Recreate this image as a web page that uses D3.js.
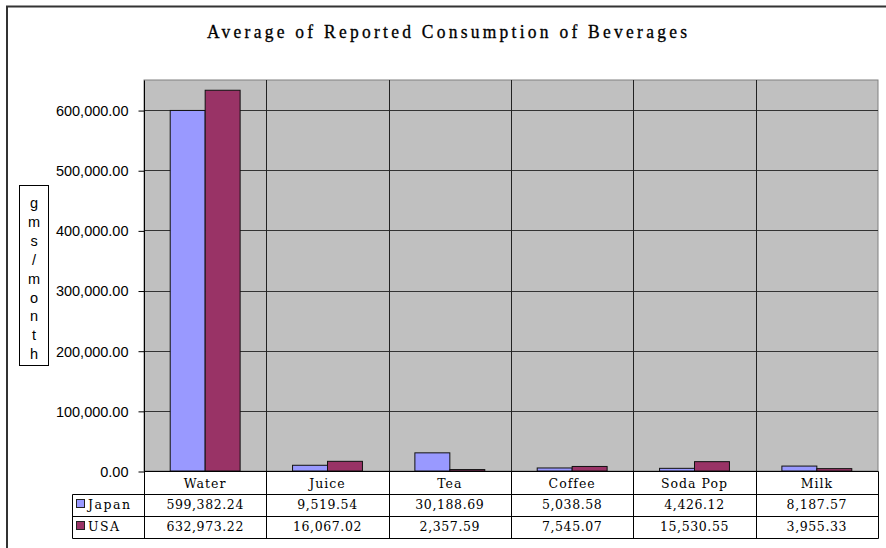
<!DOCTYPE html>
<html>
<head>
<meta charset="utf-8">
<script src="https://cdn.jsdelivr.net/npm/d3@7"></script>
<style>
  html, body { margin: 0; padding: 0; background: #fff; }
  svg { display: block; }
</style>
</head>
<body>
<svg id="chart" width="886" height="548"></svg>
<script>
// Beverage consumption (gms / month) by country
const categories = ["Water", "Juice", "Tea", "Coffee", "Soda Pop", "Milk"];
const seriesNames = ["Japan", "USA"];
const japanValues = [599382.24, 9519.54, 30188.69, 5038.58, 4426.12, 8187.57];
const usaValues = [632973.22, 16067.02, 2357.59, 7545.07, 15530.55, 3955.33];
const yTicks = [0, 100000, 200000, 300000, 400000, 500000, 600000];
const yTitleLetters = ["g", "m", "s", "/", "m", "o", "n", "t", "h"];
const titleText = "Average of Reported Consumption of Beverages";

const seriesValues = [japanValues, usaValues];
const seriesColors = ["#9999FF", "#993366"];

const svg = d3.select("#chart");

const plot = { left: 144, right: 878, top: 80, bottom: 471 };
const table = { left: 72, catRow: 494, row1: 516, row2: 538 };

// Outer chart frame (left and top edges visible)
svg.append("path")
  .attr("d", `M7,548 L7,6.5 L886,6.5`)
  .attr("fill", "none")
  .attr("stroke", "#333")
  .attr("stroke-width", 2);

// Title, drawn slightly condensed and tall
svg.append("text")
  .attr("transform", "translate(447,38) scale(1,1.12)")
  .attr("text-anchor", "middle")
  .attr("font-family", "'Liberation Serif', 'DejaVu Serif', serif")
  .attr("font-size", 17.5)
  .attr("textLength", 480)
  .attr("lengthAdjust", "spacing")
  .attr("stroke", "#000")
  .attr("stroke-width", 0.3)
  .attr("fill", "#000")
  .text(titleText);

// Scales
const x = d3.scaleBand()
  .domain(categories)
  .range([plot.left, plot.right])
  .paddingInner(0)
  .paddingOuter(0);

const bw = x.bandwidth();
const gap = bw * 0.75 / 3.5;
const xs = d3.scaleBand()
  .domain(seriesNames)
  .range([gap, bw - gap])
  .padding(0);

const y = d3.scaleLinear()
  .domain([0, 650000])
  .range([plot.bottom, plot.top]);

// Plot area background
svg.append("rect")
  .attr("x", plot.left)
  .attr("y", plot.top)
  .attr("width", plot.right - plot.left)
  .attr("height", plot.bottom - plot.top)
  .attr("fill", "#C0C0C0")
  .attr("stroke", "#808080")
  .attr("stroke-width", 1);

// Horizontal gridlines
svg.append("g")
  .selectAll("line")
  .data(yTicks.filter(d => d > 0))
  .join("line")
  .attr("x1", plot.left)
  .attr("x2", plot.right)
  .attr("y1", d => Math.round(y(d)) + 0.5)
  .attr("y2", d => Math.round(y(d)) + 0.5)
  .attr("stroke", "#333")
  .attr("stroke-width", 1);

// Vertical category dividers in the plot area
const dividers = categories.slice(1).map(c => x(c));
svg.append("g")
  .selectAll("line")
  .data(dividers)
  .join("line")
  .attr("x1", d => Math.round(d) + 0.5)
  .attr("x2", d => Math.round(d) + 0.5)
  .attr("y1", plot.top)
  .attr("y2", plot.bottom)
  .attr("stroke", "#222")
  .attr("stroke-width", 1);

// Bars
const barData = [];
categories.forEach((c, i) => {
  seriesNames.forEach((s, j) => {
    barData.push({ cat: c, series: s, value: seriesValues[j][i], color: seriesColors[j] });
  });
});

svg.append("g")
  .selectAll("rect")
  .data(barData)
  .join("rect")
  .attr("x", d => x(d.cat) + xs(d.series))
  .attr("y", d => y(d.value))
  .attr("width", xs.bandwidth())
  .attr("height", d => Math.max(0, y(0) - y(d.value)))
  .attr("fill", d => d.color)
  .attr("stroke", "#111")
  .attr("stroke-width", 1);

// Y axis
const yAxis = d3.axisLeft(y)
  .tickValues(yTicks)
  .tickSize(6)
  .tickPadding(10)
  .tickFormat(d3.format(",.2f"));

const yAxisG = svg.append("g")
  .attr("transform", `translate(${plot.left + 0.5},0.5)`)
  .call(yAxis);
yAxisG.select(".domain").attr("stroke", "#000").attr("d", `M0,${plot.top}V${table.row2}`);
yAxisG.selectAll(".tick line").attr("stroke", "#000");
yAxisG.selectAll(".tick text")
  .attr("font-family", "'Liberation Sans', Arial, sans-serif")
  .attr("font-size", 14.5)
  .attr("fill", "#000")
  .attr("dy", "0.34em");

// Y axis title box with stacked letters
const titleBox = { x: 19, y: 185, w: 29, h: 180 };
svg.append("rect")
  .attr("x", titleBox.x + 0.5)
  .attr("y", titleBox.y + 0.5)
  .attr("width", titleBox.w)
  .attr("height", titleBox.h)
  .attr("fill", "#fff")
  .attr("stroke", "#000")
  .attr("stroke-width", 1);

svg.append("g")
  .selectAll("text")
  .data(yTitleLetters)
  .join("text")
  .attr("x", titleBox.x + titleBox.w / 2 + 0.5)
  .attr("y", (d, i) => 208 + i * 18.9)
  .attr("text-anchor", "middle")
  .attr("font-family", "'Liberation Sans', Arial, sans-serif")
  .attr("font-size", 14.5)
  .attr("fill", "#000")
  .text(d => d);

// Data table
const tableG = svg.append("g");
const tableLines = [
  [plot.left, plot.bottom, plot.right, plot.bottom],
  [table.left, table.catRow, plot.right, table.catRow],
  [table.left, table.row1, plot.right, table.row1],
  [table.left, table.row2, plot.right, table.row2],
  [table.left, table.catRow, table.left, table.row2]
];
categories.forEach(c => {
  const xr = x(c) + bw;
  tableLines.push([xr, plot.bottom, xr, table.row2]);
});
dividers.forEach(d => tableLines.push([d, plot.bottom, d, table.row2]));

tableG.selectAll("line")
  .data(tableLines)
  .join("line")
  .attr("x1", d => Math.round(d[0]) + 0.5)
  .attr("y1", d => Math.round(d[1]) + 0.5)
  .attr("x2", d => Math.round(d[2]) + 0.5)
  .attr("y2", d => Math.round(d[3]) + 0.5)
  .attr("stroke", "#000")
  .attr("stroke-width", 1);

const tableFont = "'DejaVu Serif', 'Liberation Serif', serif";

// Category names
tableG.append("g")
  .selectAll("text")
  .data(categories)
  .join("text")
  .attr("x", d => x(d) + bw / 2)
  .attr("y", 488)
  .attr("text-anchor", "middle")
  .attr("font-family", tableFont)
  .attr("font-size", 12.5)
  .attr("letter-spacing", 1)
  .attr("fill", "#000")
  .text(d => d);

// Value rows
const rowBaselines = [509, 531];
const fmt = d3.format(",.2f");
seriesNames.forEach((s, j) => {
  tableG.append("g")
    .selectAll("text")
    .data(seriesValues[j])
    .join("text")
    .attr("x", (d, i) => x(categories[i]) + bw / 2)
    .attr("y", rowBaselines[j])
    .attr("text-anchor", "middle")
    .attr("font-family", tableFont)
    .attr("font-size", 12.5)
    .attr("letter-spacing", 0.6)
    .attr("fill", "#000")
    .text(d => fmt(d));

  // Legend key and series name
  tableG.append("rect")
    .attr("x", 76.5)
    .attr("y", rowBaselines[j] - 9.5)
    .attr("width", 8)
    .attr("height", 8)
    .attr("fill", seriesColors[j])
    .attr("stroke", "#222")
    .attr("stroke-width", 1);

  tableG.append("text")
    .attr("x", 88)
    .attr("y", rowBaselines[j])
    .attr("font-family", tableFont)
    .attr("font-size", 12.5)
    .attr("letter-spacing", 1.5)
    .attr("fill", "#000")
    .text(s);
});
</script>
</body>
</html>
